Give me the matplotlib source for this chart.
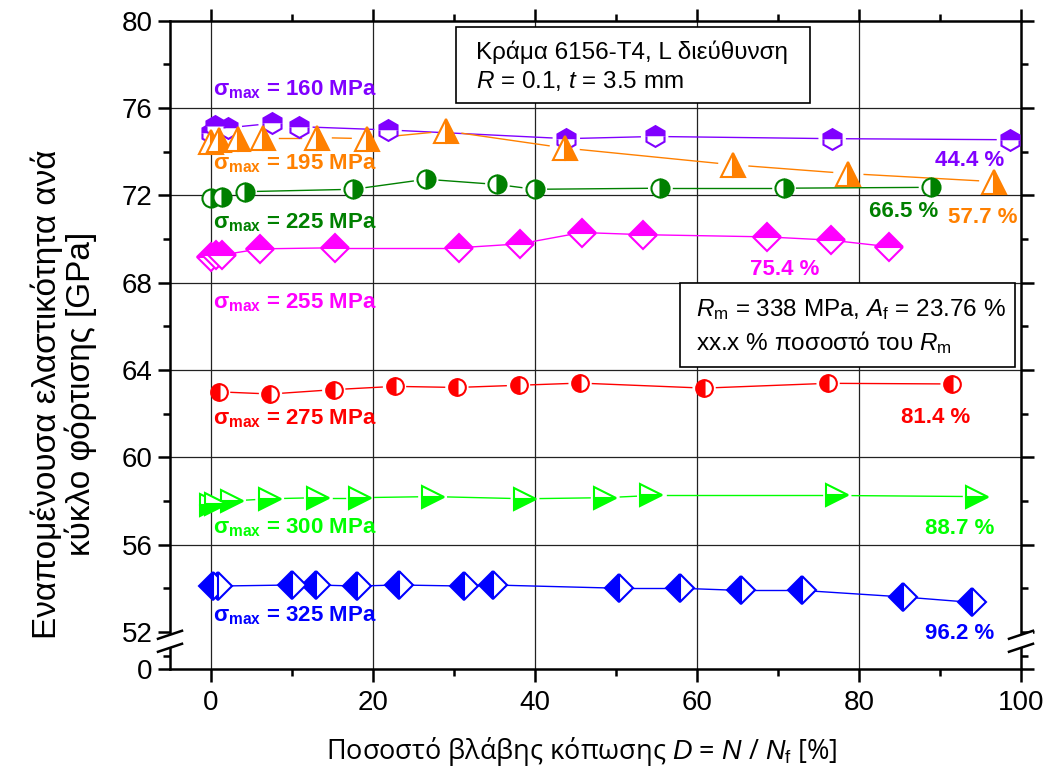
import numpy as np
import matplotlib.pyplot as plt
from matplotlib import transforms
from matplotlib.patches import Polygon, Rectangle

plt.rcParams['font.family'] = ['Liberation Sans', 'DejaVu Sans']
plt.rcParams['mathtext.fontset'] = 'custom'
plt.rcParams['mathtext.rm'] = 'Liberation Sans'
plt.rcParams['mathtext.it'] = 'Liberation Sans:italic'
plt.rcParams['mathtext.bf'] = 'Liberation Sans:bold'

# fatigue damage D [%] and secant modulus [GPa] per stress level
d_160 = [0.1, 0.5, 2.2, 7.6, 10.9, 21.9, 43.9, 54.8, 76.7, 98.7]
e_160 = [74.85, 75.2, 75.1, 75.3, 75.15, 75.0, 74.6, 74.7, 74.6, 74.55]

d_195 = [0.0, 1.0, 3.4, 6.5, 13.1, 19.3, 29.1, 43.7, 64.5, 78.7, 96.7]
e_195 = [74.45, 74.55, 74.6, 74.65, 74.65, 74.6, 74.95, 74.17, 73.4, 73.0, 72.63]

d_225 = [0.1, 1.4, 4.2, 17.6, 26.6, 35.4, 40.0, 55.5, 70.7, 88.9]
e_225 = [71.87, 71.94, 72.17, 72.28, 72.74, 72.5, 72.28, 72.33, 72.33, 72.37]

d_255 = [0.0, 0.7, 1.4, 6.1, 15.3, 30.6, 38.2, 45.8, 53.4, 68.6, 76.5, 83.7]
e_255 = [69.2, 69.25, 69.27, 69.55, 69.6, 69.6, 69.78, 70.3, 70.2, 70.1, 69.95, 69.65]

d_275 = [1.0, 7.4, 15.2, 22.7, 30.4, 38.0, 45.6, 60.9, 76.2, 91.5]
e_275 = [63.0, 62.9, 63.1, 63.25, 63.2, 63.3, 63.4, 63.17, 63.39, 63.36]

d_300 = [0.0, 0.7, 2.6, 7.3, 13.3, 18.4, 27.4, 38.8, 48.7, 54.4, 77.3, 94.6]
e_300 = [57.8, 57.87, 58.0, 58.1, 58.15, 58.15, 58.2, 58.1, 58.15, 58.25, 58.25, 58.2]

d_325 = [0.3, 0.9, 10.1, 13.0, 18.1, 23.2, 31.3, 34.8, 50.4, 57.9, 65.4, 73.0, 85.5, 94.0]
e_325 = [54.1, 54.1, 54.15, 54.15, 54.1, 54.15, 54.1, 54.15, 54.0, 54.0, 53.9, 53.9, 53.6, 53.35]

levels = ['160', '195', '225', '255', '275', '300', '325']
pct_rm = ['44.4 %', '57.7 %', '66.5 %', '75.4 %', '81.4 %', '88.7 %', '96.2 %']

# styling: color, marker, fillstyle, size, label positions
series = [
    (d_160, e_160, '#8000FF', 'h', 'top', 15, 76.56, (89.4, 73.36)),
    (d_195, e_195, '#FF8000', '^', 'right', 17, 73.17, (91.0, 70.72)),
    (d_225, e_225, '#008000', 'o', 'right', 13, 70.49, (81.2, 71.0)),
    (d_255, e_255, '#FF00FF', 'D', 'top', 14, 66.83, (66.6, 68.35)),
    (d_275, e_275, '#FF0000', 'o', 'left', 12, 61.49, (85.2, 61.59)),
    (d_300, e_300, '#00FF00', '>', 'bottom', 16, 56.52, (88.1, 56.49)),
    (d_325, e_325, '#0000FF', 'D', 'left', 14, 52.47, (88.2, 51.68)),
]

Y_ZERO = 50.3     # where the "0" of the broken axis sits
Y_BREAK = 51.57   # centre of the break marks

fig = plt.figure(figsize=(10.49, 7.80), dpi=100)
ax = fig.add_axes([170 / 1049, 1 - 669 / 780, 851 / 1049, 648.2 / 780])
ax.set_xlim(-5, 100)
ax.set_ylim(Y_ZERO, 80)

# grid
for gx in [0, 20, 40, 60, 80]:
    ax.axvline(gx, color='#222222', lw=0.9, zorder=1)
for gy in [56, 60, 64, 68, 72, 76]:
    ax.axhline(gy, color='#222222', lw=0.9, zorder=1)

fig.canvas.draw()


def gapped_line(x, y, color, gap):
    # connecting segments that stop short of the symbols
    pts = ax.transData.transform(np.column_stack([x, y]))
    for p, q in zip(pts[:-1], pts[1:]):
        v = q - p
        L = np.hypot(*v)
        if L <= 2 * gap:
            continue
        u = v / L
        a = ax.transData.inverted().transform([p + u * gap, q - u * gap])
        ax.plot(a[:, 0], a[:, 1], color=color, lw=1.0, zorder=2)


for (dx, ey, col, mk, fs, ms, lab_y, pct_xy), lev, pct in zip(series, levels, pct_rm):
    gapped_line(dx, ey, col, ms * 100 / 72 / 2 + 4)
    ax.plot(dx, ey, ls='none', marker=mk, ms=ms, fillstyle=fs, color=col,
            markerfacecoloralt='white', markeredgecolor=col, mew=1.5, zorder=3)
    ax.text(0.3, lab_y, r'σ$_{\mathbf{max}}$ = ' + lev + ' MPa', color=col,
            fontsize=16, fontweight='bold', ha='left', va='baseline', zorder=4)
    ax.text(pct_xy[0], pct_xy[1], pct, color=col, fontsize=16, fontweight='bold',
            ha='left', va='baseline', zorder=4)

# text boxes
ax.add_patch(Rectangle((30.3, 76.23), 43.7, 3.49, fc='white', ec='black', lw=1.2, zorder=5))
ax.text(32.7, 78.57, 'Κράμα 6156-T4, L διεύθυνση', fontsize=17.5, va='center', zorder=6)
ax.text(32.7, 77.24, r'$R$ = 0.1, $t$ = 3.5 mm', fontsize=17.5, va='center', zorder=6)

ax.add_patch(Rectangle((57.9, 64.14), 41.3, 3.85, fc='white', ec='black', lw=1.2, zorder=5))
ax.text(59.9, 66.75, r'$R_\mathrm{m}$ = 338 MPa, $A_\mathrm{f}$ = 23.76 %', fontsize=17.5,
        va='center', zorder=6)
ax.text(59.9, 65.25, r'xx.x % ποσοστό του $R_\mathrm{m}$', fontsize=17.5, va='center', zorder=6)

# axes, ticks
for s in ax.spines.values():
    s.set_linewidth(1.8)
ax.set_xticks([0, 20, 40, 60, 80, 100])
ax.set_xticks([10, 30, 50, 70, 90], minor=True)
ax.set_yticks([Y_ZERO, 52, 56, 60, 64, 68, 72, 76, 80])
ax.set_yticklabels(['0', '52', '56', '60', '64', '68', '72', '76', '80'])
ax.set_yticks([50.9, 54, 58, 62, 66, 70, 74, 78], minor=True)
ax.tick_params(which='both', direction='out', width=1.8, labelsize=20,
               right=True, top=True)
ax.tick_params(which='major', length=9)
ax.tick_params(which='minor', length=5)
ax.tick_params(axis='x', pad=6)

# break marks on both vertical spines
brk = transforms.blended_transform_factory(ax.transAxes, ax.transData)
for xa in (0, 1):
    cx, cy = brk.transform((xa, Y_BREAK))
    w, h, sep = 12, 4, 6.5
    poly = [(cx - w, cy + sep - h), (cx + w, cy + sep + h),
            (cx + w, cy - sep + h), (cx - w, cy - sep - h)]
    fig.add_artist(Polygon(poly, closed=True, fc='white', ec='none',
                           transform=None, zorder=10))
    for sgn in (1, -1):
        fig.add_artist(plt.Line2D([cx - w, cx + w],
                                  [cy + sgn * sep - h, cy + sgn * sep + h],
                                  color='black', lw=1.8, transform=None, zorder=11))

fig.text(0.061, 0.495, 'Εναπομένουσα ελαστικότητα ανά\nκύκλο φόρτισης [GPa]',
         rotation=90, ha='center', va='center', fontsize=24, linespacing=1.05)
ax.set_xlabel(r'Ποσοστό βλάβης κόπωσης $D$ = $N$ / $N_\mathrm{f}$ [%]', fontsize=19.5,
              family=['Open Sans', 'DejaVu Sans'], labelpad=14)
ax.xaxis.label.set_x(0.484)

fig.savefig('out.png', dpi=100)
